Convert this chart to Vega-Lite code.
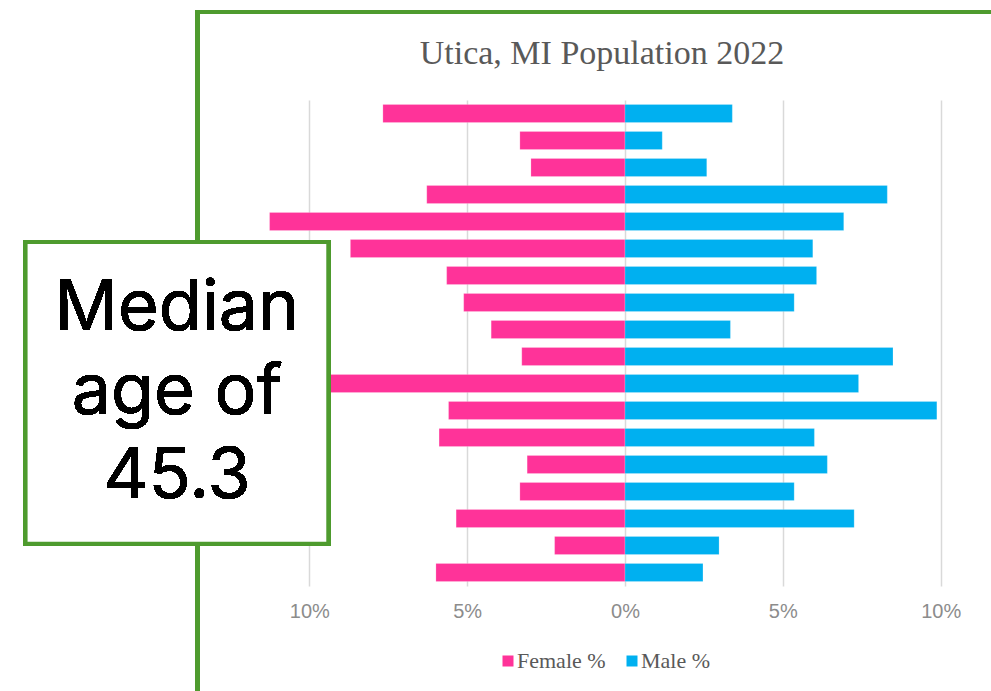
{
  "$schema": "https://vega.github.io/schema/vega-lite/v6.json",
  "autosize": {"type": "none"},
  "padding": {"left": 262, "top": 100, "right": 3, "bottom": 105},
  "width": 726,
  "height": 486,
  "background": "white",
  "title": {
    "text": "Utica, MI Population 2022",
    "font": "Liberation Serif",
    "fontSize": 34,
    "fontWeight": "normal",
    "color": "#595959",
    "anchor": "middle",
    "frame": "group",
    "baseline": "alphabetic",
    "dx": -23,
    "offset": -88
  },
  "data": {
    "values": [
      {"age": "85+", "sex": "Female %", "pct": -7.67},
      {"age": "85+", "sex": "Male %", "pct": 3.40},
      {"age": "80-84", "sex": "Female %", "pct": -3.33},
      {"age": "80-84", "sex": "Male %", "pct": 1.18},
      {"age": "75-79", "sex": "Female %", "pct": -2.98},
      {"age": "75-79", "sex": "Male %", "pct": 2.59},
      {"age": "70-74", "sex": "Female %", "pct": -6.28},
      {"age": "70-74", "sex": "Male %", "pct": 8.31},
      {"age": "65-69", "sex": "Female %", "pct": -11.26},
      {"age": "65-69", "sex": "Male %", "pct": 6.93},
      {"age": "60-64", "sex": "Female %", "pct": -8.70},
      {"age": "60-64", "sex": "Male %", "pct": 5.95},
      {"age": "55-59", "sex": "Female %", "pct": -5.65},
      {"age": "55-59", "sex": "Male %", "pct": 6.07},
      {"age": "50-54", "sex": "Female %", "pct": -5.11},
      {"age": "50-54", "sex": "Male %", "pct": 5.36},
      {"age": "45-49", "sex": "Female %", "pct": -4.24},
      {"age": "45-49", "sex": "Male %", "pct": 3.34},
      {"age": "40-44", "sex": "Female %", "pct": -3.27},
      {"age": "40-44", "sex": "Male %", "pct": 8.49},
      {"age": "35-39", "sex": "Female %", "pct": -9.90},
      {"age": "35-39", "sex": "Male %", "pct": 7.40},
      {"age": "30-34", "sex": "Female %", "pct": -5.59},
      {"age": "30-34", "sex": "Male %", "pct": 9.88},
      {"age": "25-29", "sex": "Female %", "pct": -5.89},
      {"age": "25-29", "sex": "Male %", "pct": 6.00},
      {"age": "20-24", "sex": "Female %", "pct": -3.10},
      {"age": "20-24", "sex": "Male %", "pct": 6.41},
      {"age": "15-19", "sex": "Female %", "pct": -3.33},
      {"age": "15-19", "sex": "Male %", "pct": 5.36},
      {"age": "10-14", "sex": "Female %", "pct": -5.35},
      {"age": "10-14", "sex": "Male %", "pct": 7.26},
      {"age": "5-9", "sex": "Female %", "pct": -2.23},
      {"age": "5-9", "sex": "Male %", "pct": 2.98},
      {"age": "0-4", "sex": "Female %", "pct": -5.99},
      {"age": "0-4", "sex": "Male %", "pct": 2.47}
    ]
  },
  "layer": [
    {
      "mark": {"type": "rect", "fill": "transparent", "stroke": "#4E9B2E", "strokeWidth": 4, "clip": false},
      "encoding": {
        "x": {"datum": -13.54, "type": "quantitative", "scale": {"domain": [-11.5, 11.5], "nice": false, "zero": false}},
        "x2": {"datum": 15},
        "y": {"datum": -18.1, "type": "quantitative", "scale": {"domain": [0, 100], "reverse": true, "nice": false, "zero": false}, "axis": null},
        "y2": {"datum": 130}
      }
    },
    {
      "mark": {"type": "bar", "stroke": "white", "strokeWidth": 0.5, "strokeOpacity": 0.4},
      "encoding": {
        "x": {
          "field": "pct",
          "type": "quantitative",
          "scale": {"domain": [-11.5, 11.5], "nice": false, "zero": false},
          "axis": {
            "title": null,
            "values": [-10, -5, 0, 5, 10],
            "labelExpr": "abs(datum.value) + '%'",
            "domain": false,
            "ticks": false,
            "grid": true,
            "gridColor": "#D9D9D9",
            "gridWidth": 1.5,
            "labelFont": "Liberation Sans",
            "labelFontSize": 20,
            "labelColor": "#8C8C8C",
            "labelPadding": 15
          }
        },
        "y": {
          "field": "age",
          "type": "nominal",
          "sort": null,
          "scale": {"paddingInner": 0.33, "paddingOuter": 0.165},
          "axis": null
        },
        "color": {
          "field": "sex",
          "type": "nominal",
          "scale": {"domain": ["Female %", "Male %"], "range": ["#FF3399", "#00B0F0"]},
          "legend": {
            "title": null,
            "orient": "none",
            "direction": "horizontal",
            "legendX": 235,
            "legendY": 550,
            "symbolType": "square",
            "symbolSize": 121,
            "symbolStrokeWidth": 0,
            "labelFont": "Liberation Serif",
            "labelFontSize": 22,
            "labelColor": "#595959",
            "labelOffset": -2,
            "columnPadding": 15
          }
        }
      }
    },
    {
      "mark": {"type": "rect", "fill": "white", "stroke": "#4E9B2E", "strokeWidth": 4, "clip": false},
      "encoding": {
        "x": {"datum": -18.99, "type": "quantitative", "scale": {"domain": [-11.5, 11.5], "nice": false, "zero": false}},
        "x2": {"datum": -9.40},
        "y": {"datum": 29.22, "type": "quantitative", "scale": {"domain": [0, 100], "reverse": true, "nice": false, "zero": false}, "axis": null},
        "y2": {"datum": 91.3}
      }
    },
    {
      "mark": {"type": "text", "font": "Inter", "fontSize": 70, "color": "black", "align": "center", "baseline": "alphabetic", "lineBreak": "\n", "lineHeight": 84, "clip": false},
      "encoding": {
        "x": {"datum": -14.19, "type": "quantitative", "scale": {"domain": [-11.5, 11.5], "nice": false, "zero": false}},
        "y": {"datum": 47.33, "type": "quantitative", "scale": {"domain": [0, 100], "reverse": true, "nice": false, "zero": false}, "axis": null},
        "text": {"value": "Median\nage of\n45.3"}
      }
    }
  ],
  "resolve": {"scale": {"y": "independent"}},
  "config": {"view": {"stroke": null}}
}
